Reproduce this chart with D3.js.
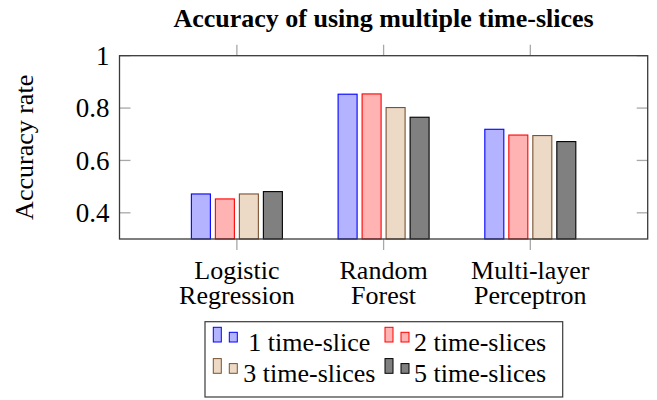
<!DOCTYPE html>
<html><head><meta charset="utf-8">
<script src="https://cdn.jsdelivr.net/npm/d3@7"></script>
<style>
html,body{margin:0;padding:0;background:#fff;}
text{font-family:"Liberation Serif","Times New Roman",serif;fill:#000;}
</style></head>
<body><svg id="c" width="657" height="400"></svg>
<script>
const title = "Accuracy of using multiple time-slices";
const yLabel = "Accuracy rate";
const categories = [["Logistic","Regression"],["Random","Forest"],["Multi-layer","Perceptron"]];
const seriesNames = ["1 time-slice","2 time-slices","3 time-slices","5 time-slices"];
const s1 = [0.472, 0.853, 0.719];
const s2 = [0.453, 0.854, 0.697];
const s3 = [0.472, 0.802, 0.695];
const s5 = [0.481, 0.765, 0.672];
const seriesValues = [s1, s2, s3, s5];
const yTicks = [0.4, 0.6, 0.8, 1];
const yTickLabels = ["0.4","0.6","0.8","1"];
const fills = ["#b3b3ff","#ffb3b3","#ecd9c6","#808080"];
const strokes = ["#0000ff","#ff0000","#7a5230","#000000"];

const svg = d3.select("#c");
const L = 119.5, R = 647.7, T = 55.7, B = 239;
const x = d3.scaleLinear().domain([-0.8, 2.8]).range([L, R]);
const y = d3.scaleLinear().domain([0.3, 1]).range([B, T]);
const xs = d3.scaleBand().domain(d3.range(seriesNames.length)).range([-48, 48]);
const barW = 19;

// title
svg.append("text").attr("x", (L+R)/2).attr("y", 27).attr("text-anchor","middle")
  .style("font-weight","bold").style("font-size","26px").text(title);

// y ticks
const tickC = "#a8a8a8";
yTicks.forEach((t,i)=>{
  const yy = y(t);
  svg.append("line").attr("x1",L).attr("x2",L+11).attr("y1",yy).attr("y2",yy).attr("stroke",tickC).attr("stroke-width",1.3);
  svg.append("line").attr("x1",R-11).attr("x2",R).attr("y1",yy).attr("y2",yy).attr("stroke",tickC).attr("stroke-width",1.3);
  svg.append("text").attr("x",109.5).attr("y",yy).attr("dy","0.34em").attr("text-anchor","end")
    .style("font-size","27px").text(yTickLabels[i]);
});
// x ticks
categories.forEach((c,i)=>{
  const xx = x(i);
  svg.append("line").attr("x1",xx).attr("x2",xx).attr("y1",T-11).attr("y2",T).attr("stroke",tickC).attr("stroke-width",1.3);
  svg.append("line").attr("x1",xx).attr("x2",xx).attr("y1",B).attr("y2",B+11).attr("stroke",tickC).attr("stroke-width",1.3);
  const t = svg.append("text").attr("x",xx).attr("y",278.5).attr("text-anchor","middle")
      .style("font-size","26px");
  c.forEach((line,k)=>{
    t.append("tspan").attr("x",xx).attr("dy",k===0?0:25).text(line);
  });
});

// bars
seriesValues.forEach((vals,si)=>{
  svg.append("g").selectAll("rect").data(vals).join("rect")
    .attr("x",(d,i)=>x(i)+xs(si)+(xs.bandwidth()-barW)/2)
    .attr("y",d=>y(d))
    .attr("width",barW)
    .attr("height",d=>B-y(d))
    .attr("fill",fills[si]).attr("stroke",strokes[si]).attr("stroke-width",1.1);
});

// frame
svg.append("rect").attr("x",L).attr("y",T).attr("width",R-L).attr("height",B-T)
  .attr("fill","none").attr("stroke","#3a3a3a").attr("stroke-width",1.3);

// y label
svg.append("text").attr("transform",`translate(33,${(T+B)/2}) rotate(-90)`)
  .attr("text-anchor","middle").style("font-size","26px").text(yLabel);

// legend
const lg = svg.append("g");
lg.append("rect").attr("x",205).attr("y",321.7).attr("width",357.7).attr("height",75.3)
  .attr("fill","#fff").attr("stroke","#3a3a3a").attr("stroke-width",1.2);
const legPos = [[213.3,350.7],[385,350.7],[213.3,381.7],[385,381.7]];
const textOff = [35,29,30,29];
seriesNames.forEach((n,si)=>{
  const [lx,ly] = legPos[si];
  const base = ly - 8.7 + (si>=2?0.3:0);
  lg.append("rect").attr("x",lx).attr("y",base-14.7).attr("width",8).attr("height",14.7)
    .attr("fill",fills[si]).attr("stroke",strokes[si]).attr("stroke-width",1);
  lg.append("rect").attr("x",lx+16).attr("y",base-9.7).attr("width",8).attr("height",9.7)
    .attr("fill",fills[si]).attr("stroke",strokes[si]).attr("stroke-width",1);
  lg.append("text").attr("x",lx+textOff[si]).attr("y",ly).style("font-size","26px").text(n);
});
</script></body></html>
